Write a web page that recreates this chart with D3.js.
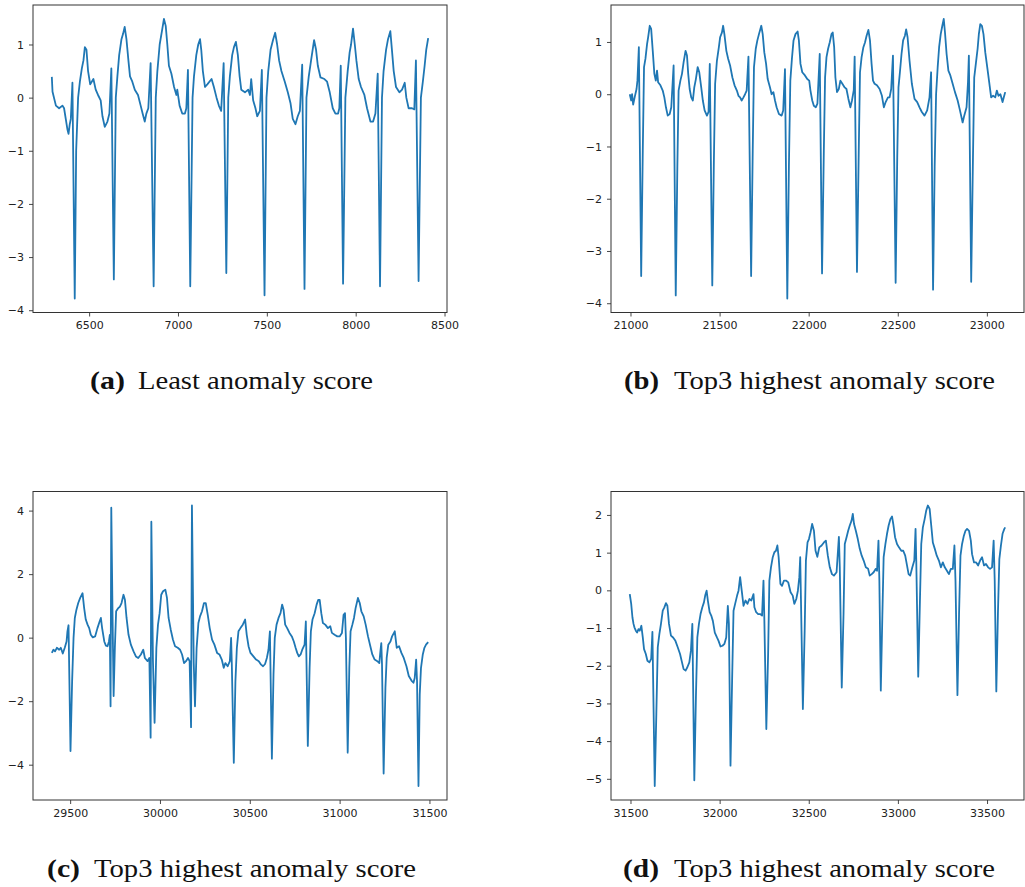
<!DOCTYPE html>
<html>
<head>
<meta charset="utf-8">
<script src="https://cdn.jsdelivr.net/npm/d3@7"></script>
<style>
  body { margin: 0; background: #fff; }
  svg { display: block; }
  .tick text { font-family: "DejaVu Sans", sans-serif; font-size: 11px; fill: #222; }
  .tick line { stroke: #333; stroke-width: 0.9; }
  .cap { font-family: "Liberation Serif", "DejaVu Serif", serif; font-size: 25px; fill: #111; }
</style>
</head>
<body>
<svg width="1025" height="887"></svg>
<script>
// (a) least anomaly score, sample index 6300..8400
const aX = [6290,6294,6313,6331,6350,6359,6378,6384,6391,6397,6406,6419,6427,6438,6448,6459,6468,6476,6485,6494,6506,6524,6537,6550,6565,6575,6588,6603,6614,6625,6639,6650,6659,6669,6682,6691,6700,6710,6721,6730,6743,6757,6775,6790,6801,6813,6822,6833,6846,6863,6875,6884,6897,6912,6921,6931,6940,6949,6963,6978,6991,6996,7009,7024,7039,7047,7056,7069,7082,7090,7103,7114,7124,7131,7140,7152,7165,7189,7202,7217,7230,7243,7257,7272,7283,7292,7305,7315,7326,7337,7347,7356,7377,7395,7405,7412,7423,7436,7446,7461,7472,7487,7498,7508,7521,7536,7547,7558,7569,7582,7601,7618,7633,7646,7661,7674,7686,7699,7712,7723,7736,7749,7766,7777,7787,7802,7824,7839,7854,7871,7886,7901,7908,7916,7929,7942,7955,7966,7974,7985,7995,8004,8017,8030,8049,8064,8083,8098,8111,8124,8137,8148,8157,8171,8182,8195,8204,8214,8227,8246,8261,8276,8285,8298,8317,8330,8339,8354,8367,8378,8388,8397,8408]
const aY = [0.39,0.11,-0.15,-0.2,-0.15,-0.2,-0.6,-0.68,-0.5,-0.4,0.28,-3.78,-1.0,0.0,0.3,0.55,0.7,0.95,0.9,0.5,0.25,0.35,0.15,0.05,-0.05,-0.35,-0.55,-0.45,-0.3,0.55,-3.42,0.0,0.4,0.8,1.1,1.2,1.33,1.1,0.7,0.4,0.3,0.15,0.05,-0.15,-0.3,-0.45,-0.3,-0.2,0.65,-3.55,0.0,0.5,1.0,1.3,1.48,1.35,1.0,0.6,0.45,0.2,0.05,0.15,-0.15,-0.3,-0.3,-0.2,0.52,-3.55,0.0,0.4,0.8,1.0,1.1,0.9,0.5,0.2,0.25,0.35,0.2,0.0,-0.15,-0.25,0.65,-3.3,0.0,0.4,0.8,0.95,1.05,0.8,0.4,0.15,0.1,0.15,0.05,0.35,-0.05,-0.2,-0.35,-0.25,0.52,-3.72,0.0,0.5,0.9,1.1,1.22,1.0,0.7,0.5,0.3,0.1,-0.1,-0.4,-0.5,-0.35,-0.25,0.62,-3.6,0.0,0.4,0.7,1.08,0.9,0.6,0.38,0.35,0.3,0.1,-0.2,-0.3,-0.3,-0.2,0.6,-3.5,0.0,0.5,0.85,1.0,1.3,1.0,0.7,0.35,0.2,0.05,-0.2,-0.45,-0.45,-0.3,0.45,-3.55,0.0,0.5,0.9,1.1,1.25,0.9,0.5,0.2,0.1,0.15,0.28,0.0,-0.2,-0.2,-0.22,0.7,-3.45,0.0,0.3,0.6,0.9,1.12]

// (b) top3 highest, 21000..23100
const bX = [20996,21004,21009,21015,21024,21034,21039,21047,21060,21069,21076,21084,21093,21099,21108,21116,21125,21134,21142,21149,21155,21168,21181,21190,21199,21209,21220,21229,21242,21254,21263,21270,21280,21289,21298,21309,21317,21324,21332,21341,21350,21358,21367,21377,21386,21397,21406,21416,21429,21438,21445,21459,21468,21475,21485,21496,21503,21513,21520,21527,21538,21548,21559,21572,21584,21597,21606,21615,21624,21634,21643,21652,21662,21677,21686,21693,21703,21712,21721,21729,21734,21742,21751,21761,21770,21783,21792,21802,21811,21820,21833,21848,21857,21867,21880,21889,21897,21906,21915,21926,21938,21945,21954,21964,21979,21992,22003,22010,22020,22029,22040,22049,22062,22075,22085,22092,22100,22109,22118,22128,22135,22143,22150,22159,22169,22178,22189,22202,22212,22223,22234,22243,22253,22258,22271,22281,22288,22297,22307,22316,22325,22335,22344,22353,22361,22370,22383,22398,22411,22422,22432,22445,22454,22463,22473,22488,22497,22504,22512,22521,22530,22540,22547,22555,22566,22579,22594,22609,22622,22635,22650,22665,22678,22687,22698,22707,22715,22724,22732,22741,22750,22758,22765,22774,22784,22795,22808,22821,22836,22849,22864,22873,22886,22894,22899,22912,22922,22929,22939,22948,22955,22963,22972,22981,22991,23002,23013,23024,23035,23047,23056,23065,23076,23088,23095,23103]
const bY = [0.0,-0.12,0.0,-0.2,-0.05,0.1,0.26,0.9,-3.48,-1.08,0.52,0.68,0.96,1.09,1.31,1.25,0.83,0.39,0.26,0.45,0.23,0.17,0.07,-0.06,-0.25,-0.41,-0.38,-0.25,0.55,-3.85,-1.39,0.07,0.26,0.39,0.61,0.83,0.74,0.39,0.1,-0.06,-0.12,0.13,0.29,0.52,0.42,0.13,-0.12,-0.31,-0.41,-0.34,0.58,-3.66,-1.27,0.2,0.64,0.9,1.09,1.18,1.31,1.15,0.83,0.68,0.55,0.32,0.17,0.07,-0.03,-0.06,-0.12,-0.06,0.0,0.07,0.72,-3.48,-1.08,0.52,0.87,1.03,1.15,1.25,1.31,1.15,0.8,0.58,0.29,0.13,0.0,0.04,-0.12,-0.25,-0.38,-0.41,-0.31,0.48,-3.91,-1.39,0.26,0.68,1.03,1.15,1.2,1.03,0.58,0.42,0.36,0.29,0.26,0.07,-0.12,-0.22,-0.25,-0.18,0.77,-3.43,-1.08,0.32,0.71,0.87,0.99,1.15,1.18,0.9,0.32,0.04,0.1,0.26,0.2,0.13,0.1,-0.09,-0.25,-0.12,0.08,0.72,-3.4,-1.08,0.42,0.71,0.9,0.99,1.12,1.23,1.03,0.58,0.26,0.2,0.17,0.1,-0.03,-0.25,-0.15,-0.06,-0.06,0.1,0.74,-3.61,-1.2,0.13,0.42,0.77,1.03,1.12,1.24,1.09,0.64,0.2,-0.09,-0.15,-0.25,-0.34,-0.41,-0.31,-0.06,0.42,-3.74,-1.39,0.0,0.52,0.9,1.15,1.31,1.44,1.18,0.77,0.45,0.36,0.2,0.04,-0.12,-0.31,-0.54,-0.41,-0.25,0.23,0.74,-3.59,-1.2,0.32,0.61,0.87,1.15,1.34,1.31,1.15,0.8,0.52,0.23,-0.06,-0.03,-0.06,0.07,-0.03,0.0,-0.15,-0.06,0.04]

// (c) top3 highest, 29400..31500
const cX = [29398,29407,29416,29426,29439,29448,29459,29470,29480,29485,29491,29502,29511,29519,29526,29535,29545,29556,29569,29578,29587,29597,29606,29615,29626,29639,29652,29664,29671,29678,29690,29699,29708,29716,29721,29725,29729,29736,29742,29749,29756,29768,29777,29786,29797,29805,29814,29825,29838,29853,29866,29879,29894,29907,29916,29931,29941,29948,29952,29961,29970,29980,29989,29998,30007,30017,30030,30039,30048,30060,30072,30084,30099,30112,30123,30134,30145,30156,30165,30173,30178,30188,30195,30204,30214,30223,30234,30245,30255,30266,30277,30290,30303,30318,30331,30344,30355,30364,30377,30389,30396,30400,30411,30420,30428,30437,30448,30461,30474,30483,30493,30504,30520,30535,30550,30563,30574,30585,30595,30604,30612,30623,30632,30639,30649,30660,30671,30680,30688,30697,30708,30721,30734,30745,30755,30764,30773,30783,30792,30805,30812,30823,30833,30840,30849,30861,30872,30881,30889,30898,30907,30920,30935,30948,30957,30972,30987,31000,31013,31022,31030,31035,31045,31054,31061,31071,31080,31089,31102,31112,31121,31134,31145,31158,31171,31182,31195,31210,31221,31227,31232,31236,31245,31255,31262,31271,31283,31292,31307,31318,31331,31344,31357,31372,31385,31400,31411,31418,31426,31431,31439,31446,31453,31463,31472,31481,31493]
const cY = [-0.48,-0.38,-0.43,-0.32,-0.38,-0.32,-0.5,-0.32,-0.12,0.2,0.39,-3.57,-1.37,0.0,0.62,0.88,1.09,1.25,1.4,0.93,0.57,0.41,0.3,0.09,0.01,0.04,0.3,0.51,0.62,0.3,-0.12,-0.25,-0.27,-0.12,0.09,-2.16,4.09,0.72,-1.84,-0.32,0.83,0.93,0.98,1.09,1.35,1.19,0.62,0.09,-0.22,-0.43,-0.59,-0.64,-0.53,-0.38,-0.64,-0.74,-0.64,-3.15,3.65,-0.74,-2.68,-0.32,0.41,0.77,1.35,1.46,1.51,1.25,0.62,0.25,-0.06,-0.27,-0.32,-0.38,-0.53,-0.8,-0.74,-0.64,-0.74,-2.82,4.16,-0.8,-2.16,-0.32,0.46,0.67,0.83,1.09,1.09,0.72,0.3,-0.06,-0.22,-0.48,-0.53,-0.69,-0.95,-0.8,-0.9,-0.74,-0.01,-0.85,-3.94,-1.37,-0.32,0.2,0.3,0.41,0.57,0.09,-0.27,-0.48,-0.59,-0.69,-0.74,-0.85,-0.9,-0.83,-0.64,-0.38,0.2,-3.81,-1.16,-0.01,0.41,0.62,0.77,1.04,0.88,0.41,0.3,0.15,0.04,-0.12,-0.32,-0.48,-0.59,-0.53,-0.38,-0.22,0.51,-3.41,-0.95,0.2,0.57,0.77,1.04,1.19,1.19,0.77,0.46,0.41,0.3,0.36,0.15,0.09,0.04,0.04,0.15,0.72,0.77,-0.01,-3.62,-0.95,0.2,0.41,0.62,0.93,1.25,1.09,0.83,0.67,0.41,0.04,-0.27,-0.53,-0.69,-0.74,-0.8,-0.43,-0.17,-0.85,-4.28,-1.58,-0.64,-0.22,-0.12,0.04,0.2,-0.32,-0.27,-0.48,-0.64,-0.9,-1.21,-1.35,-1.42,-1.27,-0.69,-1.37,-4.67,-1.79,-0.95,-0.53,-0.32,-0.22,-0.14]

// (d) top3 highest, 31500..33600
const dX = [31496,31504,31511,31517,31522,31530,31537,31545,31552,31561,31569,31576,31586,31595,31606,31616,31623,31636,31645,31653,31662,31671,31681,31690,31699,31707,31716,31727,31739,31752,31765,31778,31789,31798,31809,31819,31830,31839,31847,31858,31867,31875,31884,31893,31903,31912,31919,31927,31934,31944,31953,31962,31973,31985,31994,32005,32016,32027,32037,32046,32052,32061,32070,32078,32087,32098,32106,32115,32124,32134,32145,32156,32167,32178,32190,32195,32205,32216,32227,32238,32246,32251,32262,32272,32279,32288,32298,32307,32316,32324,32331,32341,32350,32361,32372,32385,32398,32410,32419,32430,32439,32447,32452,32456,32467,32477,32484,32493,32501,32510,32519,32529,32538,32548,32559,32572,32585,32596,32607,32618,32630,32641,32656,32669,32674,32685,32695,32702,32712,32721,32730,32740,32747,32754,32764,32775,32786,32797,32808,32820,32833,32842,32853,32864,32876,32883,32891,32896,32904,32913,32920,32930,32939,32948,32958,32967,32974,32984,32995,33006,33019,33030,33041,33051,33060,33069,33081,33092,33099,33103,33114,33124,33131,33140,33150,33159,33168,33178,33187,33196,33207,33218,33230,33241,33252,33263,33275,33286,33297,33308,33317,33323,33334,33343,33351,33360,33370,33379,33388,33399,33409,33416,33427,33439,33450,33461,33472,33483,33494,33506,33517,33528,33537,33543,33552,33561,33569,33578,33587,33597,33602]
const dY = [-0.1,-0.36,-0.72,-0.89,-0.98,-1.07,-1.12,-1.03,-1.07,-0.94,-1.25,-1.56,-1.69,-1.87,-1.91,-1.82,-1.1,-5.19,-3.28,-1.51,-1.16,-0.89,-0.54,-0.45,-0.34,-0.41,-0.89,-1.2,-1.25,-1.34,-1.51,-1.69,-1.91,-2.09,-2.13,-2.04,-1.91,-1.6,-0.89,-5.04,-2.84,-1.25,-0.89,-0.63,-0.45,-0.32,-0.14,-0.01,-0.27,-0.58,-0.67,-0.81,-1.12,-1.25,-1.34,-1.49,-1.47,-1.42,-1.25,-0.41,-0.89,-4.65,-2.4,-0.54,-0.36,-0.14,-0.01,0.35,-0.01,-0.41,-0.27,-0.36,-0.23,-0.27,-0.1,-0.45,-0.58,-0.63,-0.63,-0.67,0.26,-0.81,-3.68,-1.69,0.26,0.61,0.88,1.01,1.05,1.19,0.88,0.17,0.12,0.26,0.26,0.21,-0.05,-0.14,-0.36,-0.23,-0.01,0.35,0.88,-0.19,-3.15,-1.07,0.79,1.27,1.36,1.54,1.76,1.58,1.05,0.89,1.14,1.19,1.27,1.32,0.92,0.61,0.43,0.39,0.48,1.42,0.61,-2.58,-0.63,1.23,1.41,1.58,1.72,1.85,2.03,1.76,1.58,1.36,1.1,0.92,0.79,0.61,0.57,0.39,0.43,0.48,0.57,0.52,1.32,0.26,-2.66,-0.63,0.88,1.23,1.5,1.72,1.89,1.96,1.76,1.41,1.23,1.14,1.05,1.05,0.92,0.66,0.43,0.39,0.61,0.79,1.63,0.79,-2.29,-0.19,1.23,1.67,1.89,2.12,2.25,2.16,1.72,1.27,1.1,0.92,0.79,0.61,0.74,0.61,0.52,0.43,0.57,0.57,1.19,0.26,-2.78,-0.63,0.92,1.23,1.45,1.58,1.63,1.58,1.32,0.96,0.74,0.74,0.66,0.79,0.88,0.66,0.7,0.61,0.57,0.61,1.32,0.26,-2.68,-0.63,0.83,1.19,1.5,1.63,1.67]

const xTicksA = [6500, 7000, 7500, 8000, 8500]
const xTicksB = [21000, 21500, 22000, 22500, 23000]
const xTicksC = [29500, 30000, 30500, 31000, 31500]
const xTicksD = [31500, 32000, 32500, 33000, 33500]
const yTicksA = [-4, -3, -2, -1, 0, 1]
const yTicksB = [-4, -3, -2, -1, 0, 1]
const yTicksC = [-4, -2, 0, 2, 4]
const yTicksD = [-5, -4, -3, -2, -1, 0, 1, 2]

const captionLabels = ["(a)", "(b)", "(c)", "(d)"]
const captionTexts = ["Least anomaly score", "Top3 highest anomaly score", "Top3 highest anomaly score", "Top3 highest anomaly score"]

const svg = d3.select("svg")
const fmt = d => d < 0 ? "\u2212" + Math.abs(d) : String(d)

// matplotlib style 5% margins
function padded(ext) {
  const m = (ext[1] - ext[0]) * 0.05
  return [ext[0] - m, ext[1] + m]
}

function panel(xs, ys, xTicks, yTicks, box) {
  const x = d3.scaleLinear().domain(padded(d3.extent(xs))).range([box.l, box.r])
  const y = d3.scaleLinear().domain(padded(d3.extent(ys))).range([box.b, box.t])
  const g = svg.append("g")

  g.append("path")
    .datum(d3.range(xs.length))
    .attr("fill", "none")
    .attr("stroke", "#1f77b4")
    .attr("stroke-width", 1.8)
    .attr("stroke-linejoin", "round")
    .attr("d", d3.line().x(i => x(xs[i])).y(i => y(ys[i])))

  g.append("rect")
    .attr("x", box.l).attr("y", box.t)
    .attr("width", box.r - box.l).attr("height", box.b - box.t)
    .attr("fill", "none").attr("stroke", "#333").attr("stroke-width", 1)

  const xa = g.append("g").attr("transform", "translate(0," + box.b + ")")
    .call(d3.axisBottom(x).tickValues(xTicks).tickSize(4).tickPadding(5).tickFormat(d3.format("d")))
  xa.select(".domain").remove()
  const ya = g.append("g").attr("transform", "translate(" + box.l + ",0)")
    .call(d3.axisLeft(y).tickValues(yTicks).tickSize(4).tickPadding(5).tickFormat(fmt))
  ya.select(".domain").remove()
}

panel(aX, aY, xTicksA, yTicksA, {l: 33, r: 447, t: 5, b: 312.5})
panel(bX, bY, xTicksB, yTicksB, {l: 611, r: 1024, t: 5, b: 312.5})
panel(cX, cY, xTicksC, yTicksC, {l: 33, r: 447, t: 491.5, b: 800})
panel(dX, dY, xTicksD, yTicksD, {l: 611, r: 1024, t: 491.5, b: 800})

// sub-captions
const capPos = [
  {lx: 90, lw: 35, tx: 138, tw: 235, y: 389},
  {lx: 624, lw: 35, tx: 674, tw: 321, y: 389},
  {lx: 47, lw: 33, tx: 94, tw: 322, y: 877},
  {lx: 623, lw: 36, tx: 674, tw: 321, y: 877}
]
capPos.forEach((p, i) => {
  svg.append("text").attr("class", "cap").attr("x", p.lx).attr("y", p.y)
    .attr("font-weight", "bold").attr("textLength", p.lw).attr("lengthAdjust", "spacingAndGlyphs")
    .text(captionLabels[i])
  svg.append("text").attr("class", "cap").attr("x", p.tx).attr("y", p.y)
    .attr("textLength", p.tw).attr("lengthAdjust", "spacingAndGlyphs")
    .text(captionTexts[i])
})
</script>
</body>
</html>
